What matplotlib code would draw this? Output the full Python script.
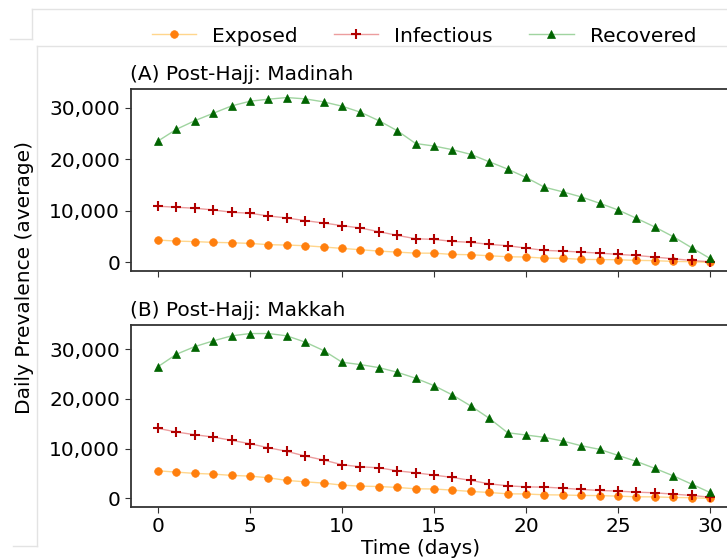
import numpy as np
import matplotlib
matplotlib.use('Agg')
import matplotlib.pyplot as plt
from matplotlib.colors import to_rgba
from matplotlib.lines import Line2D
from matplotlib.ticker import FuncFormatter


# ======================== data ========================

days = np.arange(0, 31)

# (A) Post-Hajj: Madinah
madinah_exposed = [4350, 4150, 4050, 3900, 3830, 3700, 3450, 3380, 3250, 3000,
                   2730, 2470, 2210, 2010, 1810, 1800, 1560, 1500, 1300, 1110,
                   1050, 840, 800, 600, 560, 520, 400, 350, 200, 150, 0]
madinah_infectious = [10920, 10720, 10530, 10200, 9750, 9550, 9030, 8640, 8120, 7660,
                      7150, 6690, 5980, 5260, 4610, 4480, 4090, 3900, 3510, 3250,
                      2790, 2340, 2210, 2010, 1810, 1560, 1360, 1040, 720, 390, 130]
madinah_recovered = [23590, 25870, 27540, 28980, 30410, 31320, 31710, 32030, 31770, 31190,
                     30350, 29180, 27540, 25590, 23100, 22610, 21900, 20990, 19560, 18130,
                     16510, 14620, 13710, 12730, 11500, 10200, 8580, 6890, 5010, 2870, 780]

# (B) Post-Hajj: Makkah
makkah_exposed = [5550, 5290, 5030, 4890, 4630, 4490, 4150, 3620, 3340, 3080,
                  2680, 2470, 2400, 2210, 1940, 1900, 1670, 1410, 1200, 930,
                  900, 730, 700, 600, 580, 460, 330, 320, 200, 150, 0]
makkah_infectious = [14080, 13340, 12800, 12330, 11670, 10990, 10180, 9460, 8510, 7710,
                     6770, 6360, 6160, 5550, 5150, 4690, 4220, 3620, 2940, 2540,
                     2330, 2270, 2070, 1810, 1610, 1470, 1270, 1130, 870, 600, 260]
makkah_recovered = [26480, 28970, 30500, 31650, 32660, 33120, 33120, 32660, 31390, 29700,
                    27360, 26880, 26280, 25350, 24140, 22660, 20780, 18570, 16100, 13200,
                    12740, 12270, 11530, 10590, 9860, 8650, 7440, 6040, 4550, 2880, 1200]

panel_titles = ['(A) Post-Hajj: Madinah', '(B) Post-Hajj: Makkah']
series_names = ['Exposed', 'Infectious', 'Recovered']

# ======================== styles ================================

# (line colour, marker colour, marker, marker size)
styles = {
    'Exposed':    (to_rgba('orange', 0.45),    '#ff7f0e', 'o', 5.5),
    'Infectious': (to_rgba('#d62728', 0.45),   '#b00000', '+', 6.5),
    'Recovered':  (to_rgba('#2ca02c', 0.45),   '#006400', '^', 6),
}

fs = 14.5
plt.rcParams['font.family'] = 'DejaVu Sans'
plt.rcParams['font.size'] = fs

W, H = 727, 560
fig = plt.figure(figsize=(W/100, H/100), dpi=100)

# axes extend slightly past the right edge, as in the (cropped) original
left, right = 130.5/W, 737.6/W
ax_a = fig.add_axes([left, 1 - 270.7/H, right - left, 181.4/H])
ax_b = fig.add_axes([left, 1 - 506.7/H, right - left, 181.4/H])

panels = [
    (ax_a, [madinah_exposed, madinah_infectious, madinah_recovered]),
    (ax_b, [makkah_exposed, makkah_infectious, makkah_recovered]),
]

thousands = FuncFormatter(lambda v, p: '{:,.0f}'.format(v))

for (axis, series), title in zip(panels, panel_titles):
    for name, values in zip(series_names, series):
        lc, mc, mk, ms = styles[name]
        axis.plot(days, values, color=lc, linewidth=1, marker=mk, markersize=ms,
                  markerfacecolor=mc, markeredgecolor=mc,
                  markeredgewidth=1.5 if mk == '+' else 0.5)
    axis.set_xticks([0, 5, 10, 15, 20, 25, 30])
    axis.set_yticks([0, 10000, 20000, 30000])
    axis.yaxis.set_major_formatter(thousands)
    axis.set_title(title, loc='left', fontsize=fs, pad=7)
    axis.tick_params(labelsize=fs, length=4, color='#333333')
    for sp in axis.spines.values():
        sp.set_color('#333333')
        sp.set_linewidth(1.3)

ax_a.tick_params(labelbottom=False)

fig.text(421/W, 1 - 549/H, 'Time (days)', ha='center', va='center', fontsize=fs)
fig.text(25/W, 1 - 278/H, 'Daily Prevalence (average)', ha='center', va='center',
         rotation=90, fontsize=fs)

handles = []
for name in series_names:
    lc, mc, mk, ms = styles[name]
    handles.append(Line2D([], [], color=lc, linewidth=1, marker=mk, markersize=ms,
                          markerfacecolor=mc, markeredgecolor=mc,
                          markeredgewidth=1.5 if mk == '+' else 0.5))
fig.legend(handles, series_names, ncol=3, frameon=False, loc='center',
           bbox_to_anchor=(424/W, 1 - 36/H), fontsize=fs,
           handlelength=2.2, columnspacing=1.8, handletextpad=0.8)

# faint frame lines left over in the original screenshot
faint = '#e3e3e3'
for xs, ys in [((32, W), (9, 9)), ((32, 32), (9, 39)), ((10, 32), (39, 39)),
               ((37, W), (46, 46)), ((37, 37), (46, 546)), ((13, 37), (546, 546))]:
    fig.add_artist(Line2D([x/W for x in xs], [1 - y/H for y in ys],
                          color=faint, linewidth=1))

fig.savefig('out.png', dpi=100)
